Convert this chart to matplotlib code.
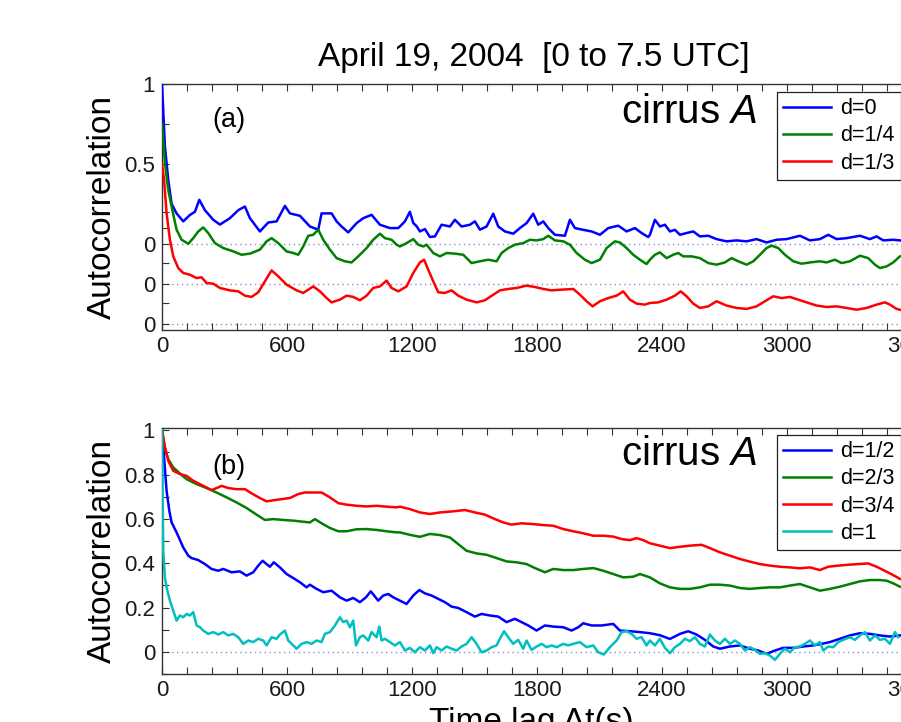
import matplotlib
matplotlib.use("Agg")
import matplotlib.pyplot as plt
from matplotlib.ticker import FixedLocator, MultipleLocator

plt.rcParams['font.family'] = ['Liberation Sans', 'DejaVu Sans']
plt.rcParams['mathtext.fontset'] = 'custom'
plt.rcParams['mathtext.rm'] = 'Liberation Sans'
plt.rcParams['mathtext.it'] = 'Liberation Sans:italic'

# ---------------- data ----------------
title = "April 19, 2004  [0 to 7.5 UTC]"
panel_a_labels = ["d=0", "d=1/4", "d=1/3"]
panel_b_labels = ["d=1/2", "d=2/3", "d=3/4", "d=1"]
panel_a_offsets = [0.0, -0.25, -0.5]          # vertical shift of each curve in (a)

a_t_d0 = [0, 14, 30, 46, 70, 102, 134, 158, 179, 206, 246, 278, 326, 366, 398, 422, 470, 510, 550, 590,
          614, 662, 710, 750, 766, 814, 838, 862, 894, 934, 966, 1006, 1046, 1094, 1134,
          1142, 1166, 1190, 1206, 1222, 1238, 1262, 1286, 1310, 1342, 1382, 1406, 1438, 1478, 1502, 1526,
          1558, 1590, 1614, 1646, 1686, 1718, 1750, 1782, 1806, 1830, 1854, 1886, 1934, 1958, 1982, 2022,
          2062, 2102, 2142, 2190, 2230, 2270, 2302, 2334,
          2342, 2366, 2390, 2414, 2438, 2462, 2486, 2518, 2550, 2582, 2622, 2662, 2710, 2758, 2806, 2854,
          2902, 2950, 2998, 3062, 3110, 3158, 3198, 3238, 3286, 3350, 3398, 3430, 3462, 3510, 3542]
a_ac_d0 = [1.0, 0.61, 0.40, 0.25, 0.19, 0.14, 0.18, 0.20, 0.275, 0.21, 0.15, 0.12, 0.16, 0.21, 0.233, 0.16,
           0.077, 0.133, 0.14, 0.237, 0.19, 0.175, 0.108, 0.088, 0.19, 0.19, 0.14, 0.108, 0.071, 0.129,
           0.16, 0.181, 0.119, 0.098, 0.098,
           0.108, 0.14, 0.20, 0.13, 0.11, 0.077, 0.092, 0.042, 0.046, 0.119, 0.108, 0.15, 0.108, 0.119,
           0.14, 0.088, 0.108, 0.188, 0.108, 0.077, 0.063, 0.098, 0.129, 0.188, 0.119, 0.14, 0.098, 0.056,
           0.05, 0.15, 0.098, 0.087, 0.077, 0.056, 0.098, 0.113, 0.077, 0.098, 0.067, 0.042,
           0.056, 0.15, 0.108, 0.119, 0.077, 0.087, 0.056, 0.067, 0.077, 0.046, 0.05, 0.029, 0.015, 0.021,
           0.015, 0.029, 0.008, 0.025, 0.029, 0.05, 0.021, 0.029, 0.056, 0.029, 0.035, 0.05, 0.029, 0.046,
           0.021, 0.025, 0.021]

a_t_d14 = [0, 14, 30, 46, 70, 94, 126, 150, 174, 198, 222, 254, 294, 342, 382, 422, 470, 502, 526, 558,
           598, 630, 654, 678, 702, 726, 750, 774, 806, 838, 878, 910, 942, 982, 1014, 1046, 1070, 1102, 1126,
           1142, 1174, 1206, 1230, 1254, 1270, 1302, 1334, 1366, 1406, 1446, 1486, 1526, 1566, 1606, 1630,
           1662, 1694, 1734, 1766, 1798, 1830, 1854, 1886, 1926, 1958, 1990, 2030, 2062, 2102, 2134, 2174,
           2198, 2230, 2262, 2294, 2326,
           2342, 2366, 2390, 2422, 2454, 2478, 2502, 2542, 2582, 2622, 2662, 2702, 2734, 2766, 2806, 2838,
           2870, 2902, 2926, 2958, 2990, 3030, 3070, 3110, 3158, 3190, 3230, 3262, 3302, 3350, 3390, 3422,
           3446, 3478, 3510, 3542]
a_ac_d14 = [1.0, 0.754, 0.587, 0.483, 0.338, 0.275, 0.25, 0.285, 0.327, 0.352, 0.317, 0.254, 0.223, 0.202,
            0.181, 0.188, 0.213, 0.265, 0.285, 0.254, 0.202, 0.192, 0.181, 0.233, 0.30, 0.306, 0.338, 0.275,
            0.213, 0.16, 0.14, 0.133, 0.171, 0.223, 0.275, 0.313, 0.285, 0.275, 0.244,
            0.233, 0.254, 0.279, 0.244, 0.233, 0.244, 0.192, 0.171, 0.192, 0.188, 0.181, 0.129, 0.14, 0.15,
            0.14, 0.192, 0.223, 0.244, 0.254, 0.275, 0.271, 0.279, 0.30, 0.271, 0.265, 0.244, 0.192, 0.15,
            0.129, 0.15, 0.223, 0.265, 0.258, 0.223, 0.181, 0.15, 0.123,
            0.15, 0.181, 0.196, 0.16, 0.181, 0.192, 0.171, 0.171, 0.16, 0.129, 0.119, 0.133, 0.16, 0.14,
            0.119, 0.14, 0.181, 0.223, 0.238, 0.223, 0.181, 0.14, 0.125, 0.133, 0.14, 0.133, 0.15, 0.129,
            0.14, 0.175, 0.16, 0.119, 0.098, 0.108, 0.133, 0.171]

a_t_d13 = [0, 10, 22, 38, 54, 78, 102, 134, 166, 190, 214, 246, 278, 326, 366, 398, 430, 462, 494, 526,
           558, 598, 646, 678, 726, 758, 790, 814, 854, 886, 918, 950, 982, 1014, 1046, 1078, 1102, 1134,
           1142, 1174, 1206, 1238, 1258, 1278, 1302, 1326, 1358, 1390, 1422, 1462, 1510, 1550, 1590, 1622,
           1662, 1702, 1750, 1790, 1830, 1870, 1910, 1974, 2006, 2038, 2067, 2102, 2142, 2182, 2214, 2246,
           2278, 2318, 2342,
           2382, 2422, 2462, 2490, 2518, 2550, 2582, 2622, 2662, 2710, 2758, 2806, 2854, 2894, 2934, 2974,
           3014, 3054, 3094, 3142, 3190, 3238, 3286, 3334, 3382, 3430, 3470, 3494, 3526, 3542]
a_ac_d13 = [1.0, 0.9, 0.692, 0.525, 0.421, 0.348, 0.317, 0.306, 0.285, 0.29, 0.254, 0.25, 0.223, 0.208,
            0.202, 0.175, 0.167, 0.196, 0.265, 0.333, 0.296, 0.244, 0.208, 0.192, 0.233, 0.202, 0.16, 0.133,
            0.15, 0.175, 0.167, 0.146, 0.175, 0.223, 0.233, 0.269, 0.223, 0.202,
            0.208, 0.233, 0.317, 0.383, 0.4, 0.337, 0.265, 0.196, 0.192, 0.208, 0.175, 0.15, 0.133, 0.146,
            0.181, 0.208, 0.217, 0.223, 0.238, 0.229, 0.217, 0.208, 0.212, 0.217, 0.181, 0.14, 0.108, 0.14,
            0.16, 0.175, 0.202, 0.15, 0.125, 0.119, 0.129,
            0.133, 0.15, 0.175, 0.202, 0.171, 0.125, 0.098, 0.108, 0.14, 0.113, 0.098, 0.092, 0.108, 0.14,
            0.171, 0.16, 0.167, 0.15, 0.133, 0.113, 0.104, 0.108, 0.098, 0.087, 0.098, 0.119, 0.133, 0.119,
            0.092, 0.087]

b_t_d12 = [0, 10, 22, 35, 46, 70, 102, 126, 142, 174, 206, 238, 270, 294, 334, 374, 406, 438, 462, 483,
           502, 518, 537, 566, 598, 630, 662, 694, 710, 742, 774, 814, 854, 886, 918, 950, 979, 1002, 1038,
           1062, 1086, 1110,
           1142, 1174, 1206, 1235, 1262, 1294, 1326, 1358, 1390, 1422, 1462, 1502, 1534, 1574, 1614, 1654,
           1694, 1726, 1758, 1798, 1838, 1878, 1926, 1966, 1998, 2022, 2062, 2110, 2166, 2198, 2246, 2294,
           2342,
           2390, 2438, 2486, 2526, 2566, 2606, 2646, 2678, 2726, 2774, 2822, 2862, 2902, 2942, 2982, 3030,
           3078, 3126, 3166, 3206, 3254, 3302, 3350, 3398, 3446, 3494, 3542]
b_ac_d12 = [1.0, 0.877, 0.727, 0.637, 0.584, 0.539, 0.471, 0.434, 0.423, 0.414, 0.396, 0.374, 0.366, 0.374,
            0.359, 0.363, 0.344, 0.359, 0.389, 0.411, 0.396, 0.384, 0.404, 0.381, 0.351, 0.333, 0.314,
            0.291, 0.303, 0.284, 0.269, 0.276, 0.246, 0.231, 0.243, 0.224, 0.246, 0.273, 0.231, 0.254,
            0.261, 0.246,
            0.231, 0.216, 0.254, 0.279, 0.264, 0.254, 0.239, 0.224, 0.204, 0.198, 0.179, 0.159, 0.171, 0.164,
            0.159, 0.134, 0.149, 0.134, 0.119, 0.096, 0.119, 0.114, 0.111, 0.096, 0.111, 0.129, 0.119, 0.119,
            0.126, 0.096, 0.093, 0.089, 0.084,
            0.075, 0.058, 0.081, 0.093, 0.078, 0.054, 0.024, 0.014, 0.024, 0.029, 0.014, 0.006, -0.009,
            0.006, 0.018, 0.018, 0.024, 0.029, 0.036, 0.044, 0.059, 0.074, 0.084, 0.081, 0.074, 0.069, 0.074]

b_t_d23 = [0, 14, 30, 54, 86, 118, 166, 214, 262, 310, 358, 406, 454, 494, 534, 582, 630, 678, 710, 734,
           766, 806, 846, 886, 934, 982, 1030, 1078, 1126,
           1142, 1190, 1238, 1286, 1334, 1382, 1422, 1462, 1510, 1558, 1606, 1654, 1702, 1750, 1790, 1838,
           1878, 1926, 1974, 2022, 2070, 2118, 2166, 2214, 2262, 2294, 2342,
           2390, 2438, 2486, 2534, 2582, 2630, 2678, 2726, 2774, 2822, 2870, 2918, 2966, 3014, 3062, 3110,
           3158, 3206, 3254, 3302, 3350, 3398, 3446, 3478, 3510, 3542]
b_ac_d23 = [1.0, 0.922, 0.869, 0.832, 0.805, 0.779, 0.757, 0.739, 0.719, 0.697, 0.674, 0.649, 0.619, 0.595,
            0.599, 0.595, 0.592, 0.587, 0.584, 0.599, 0.58, 0.559, 0.544, 0.544, 0.553, 0.554, 0.55, 0.544,
            0.539,
            0.539, 0.528, 0.519, 0.532, 0.527, 0.516, 0.486, 0.456, 0.444, 0.438, 0.423, 0.408, 0.404, 0.396,
            0.378, 0.359, 0.374, 0.369, 0.369, 0.374, 0.378, 0.366, 0.351, 0.336, 0.339, 0.351, 0.336,
            0.309, 0.291, 0.284, 0.284, 0.291, 0.303, 0.303, 0.299, 0.288, 0.284, 0.288, 0.291, 0.291, 0.299,
            0.306, 0.291, 0.276, 0.284, 0.294, 0.306, 0.318, 0.324, 0.324, 0.321, 0.309, 0.294]

b_t_d34 = [0, 14, 30, 54, 86, 118, 150, 198, 238, 262, 286, 318, 358, 398, 430, 470, 502, 542, 574, 614,
           654, 686, 726, 766, 806, 846, 886, 934, 982, 1030, 1078, 1126,
           1142, 1190, 1238, 1286, 1334, 1398, 1454, 1502, 1550, 1598, 1638, 1678, 1726, 1774, 1830, 1878,
           1926, 1974, 2022, 2070, 2118, 2166, 2206, 2246, 2278, 2310, 2342,
           2390, 2438, 2486, 2534, 2590, 2630, 2678, 2726, 2774, 2822, 2870, 2918, 2966, 3014, 3062, 3110,
           3158, 3198, 3246, 3294, 3342, 3390, 3430, 3462, 3494, 3526, 3542]
b_ac_d34 = [1.0, 0.922, 0.862, 0.817, 0.802, 0.794, 0.772, 0.749, 0.73, 0.739, 0.749, 0.739, 0.734, 0.734,
            0.715, 0.694, 0.679, 0.685, 0.689, 0.694, 0.712, 0.719, 0.719, 0.719, 0.697, 0.671, 0.664, 0.659,
            0.656, 0.659, 0.655, 0.652,
            0.655, 0.644, 0.629, 0.622, 0.629, 0.634, 0.64, 0.629, 0.619, 0.599, 0.584, 0.574, 0.58, 0.577,
            0.572, 0.569, 0.554, 0.544, 0.535, 0.524, 0.524, 0.52, 0.509, 0.504, 0.513, 0.504, 0.49,
            0.479, 0.468, 0.474, 0.479, 0.483, 0.468, 0.449, 0.434, 0.419, 0.407, 0.396, 0.389, 0.384, 0.381,
            0.377, 0.381, 0.369, 0.384, 0.389, 0.393, 0.396, 0.399, 0.384, 0.369, 0.354, 0.338, 0.329]

b_t_d1 = [0, 3, 6, 14, 22, 38, 54, 70, 86, 102, 118, 134, 150, 166, 182, 198, 222, 246, 270, 294, 318, 342,
          366, 390, 414, 438, 462, 486, 502, 526, 550, 566, 590, 606, 630, 646, 670, 694, 718, 742, 766, 782,
          806, 830, 854, 870, 886, 902, 918, 931, 950, 966, 990, 1006, 1030, 1043, 1054, 1070, 1094, 1118,
          1142, 1166, 1190, 1214, 1238, 1262, 1286, 1302, 1318, 1342, 1366, 1390, 1414, 1438, 1462, 1486,
          1510, 1534, 1558, 1582, 1606, 1622, 1642, 1662, 1686, 1710, 1734, 1750, 1774, 1798, 1822, 1846,
          1870, 1894, 1926, 1950, 1974, 2006, 2038, 2070, 2094, 2121, 2150, 2182, 2206, 2230, 2254, 2278,
          2302, 2326,
          2342, 2366, 2390, 2414, 2438, 2462, 2486, 2510, 2534, 2558, 2582, 2606, 2630, 2654, 2678, 2702,
          2726, 2750, 2774, 2798, 2822, 2846, 2870, 2894, 2918, 2942, 2966, 2990, 3014, 3038, 3062, 3086,
          3110, 3134, 3158, 3174, 3198, 3222, 3246, 3270, 3302, 3326, 3350, 3374, 3398, 3422, 3446, 3470,
          3494, 3518, 3534]
b_ac_d1 = [1.0, 0.727, 0.456, 0.336, 0.291, 0.231, 0.186, 0.141, 0.164, 0.156, 0.171, 0.164, 0.179, 0.119,
           0.111, 0.096, 0.081, 0.089, 0.078, 0.089, 0.074, 0.081, 0.066, 0.036, 0.051, 0.044, 0.059, 0.051,
           0.029, 0.066, 0.059, 0.078, 0.096, 0.051, 0.029, 0.014, 0.036, 0.044, 0.036, 0.051, 0.044, 0.081,
           0.089, 0.119, 0.156, 0.134, 0.141, 0.111, 0.141, 0.029, 0.066, 0.074, 0.051, 0.089, 0.066, 0.114,
           0.051, 0.059, 0.044, 0.029,
           0.044, 0.006, 0.018, -0.002, 0.021, 0.006, 0.029, -0.006, 0.021, 0.006, 0.024, 0.014, 0.006,
           0.024, 0.036, 0.066, 0.036, -0.002, 0.006, 0.021, 0.029, 0.059, 0.093, 0.066, 0.036, 0.054,
           0.014, 0.051, 0.009, 0.024, 0.036, 0.021, 0.029, 0.021, 0.036, 0.029, 0.036, 0.044, 0.021, 0.029,
           -0.002, -0.012, 0.021, 0.051, 0.089, 0.093, 0.081, 0.059, 0.066, 0.029,
           0.051, 0.029, 0.059, 0.018, -0.006, 0.021, 0.036, 0.059, 0.048, 0.066, 0.036, 0.024, 0.078, 0.051,
           0.036, 0.059, 0.036, 0.051, 0.036, 0.006, 0.021, 0.009, -0.009, -0.006, -0.017, -0.036, -0.009,
           0.014, -0.002, 0.021, 0.024, 0.036, 0.051, 0.029, 0.044, 0.006, 0.024, 0.021, 0.044, 0.054, 0.066,
           0.054, 0.074, 0.089, 0.051, 0.074, 0.054, 0.059, 0.036, 0.089, 0.066]

x_ticks = [0, 600, 1200, 1800, 2400, 3000, 3600]
a_yticks = [-0.5, -0.25, 0, 0.5, 1]
a_yticklabels = ["0", "0", "0", "0.5", "1"]
b_yticks = [0, 0.2, 0.4, 0.6, 0.8, 1]
b_yticklabels = ["0", "0.2", "0.4", "0.6", "0.8", "1"]

colors_a = ["#0000ff", "#008000", "#ff0000"]
colors_b = ["#0000ff", "#008000", "#ff0000", "#00bfbf"]

# ---------------- figure ----------------
W, H = 901, 722
fig = plt.figure(figsize=(W / 100, H / 100), dpi=100)
ax_a = fig.add_axes([162 / W, (H - 330) / H, 750 / W, 246 / H])
ax_b = fig.add_axes([162 / W, (H - 674) / H, 750 / W, 246 / H])

dot_color = "#8c8cd2"
for off in panel_a_offsets:
    ax_a.axhline(off, color=dot_color, lw=1.0, ls=(0, (1, 2.5)), zorder=1)
ax_b.axhline(0, color=dot_color, lw=1.0, ls=(0, (1, 2.5)), zorder=1)

series_a = [(a_t_d0, a_ac_d0), (a_t_d14, a_ac_d14), (a_t_d13, a_ac_d13)]
for (t, ac), off, c, lab in zip(series_a, panel_a_offsets, colors_a, panel_a_labels):
    ax_a.plot(t, [v + off for v in ac], color=c, lw=1.8, label=lab, zorder=3)

series_b = [(b_t_d12, b_ac_d12), (b_t_d23, b_ac_d23), (b_t_d34, b_ac_d34), (b_t_d1, b_ac_d1)]
for (t, ac), c, lab in zip(series_b, colors_b, panel_b_labels):
    ax_b.plot(t, ac, color=c, lw=1.8, label=lab, zorder=3)

ax_a.set_ylim(-0.54, 1.0)
ax_b.set_ylim(-0.1, 1.01)
ax_a.set_yticks(a_yticks)
ax_a.set_yticklabels(a_yticklabels)
ax_a.yaxis.set_minor_locator(FixedLocator([-0.37, -0.12, 0.1, 0.2, 0.75]))
ax_b.set_yticks(b_yticks)
ax_b.set_yticklabels(b_yticklabels)
ax_b.yaxis.set_minor_locator(MultipleLocator(0.1))

for ax in (ax_a, ax_b):
    ax.set_xlim(0, 3600)
    ax.set_xticks(x_ticks)
    ax.set_xticklabels([str(v) for v in x_ticks])
    ax.xaxis.set_minor_locator(MultipleLocator(120))
    ax.tick_params(which="both", direction="in", top=True, right=True, length=5, width=0.8,
                   color="#333333", labelsize=16, labelcolor="#1a1a1a")
    ax.tick_params(axis="x", pad=4)
    ax.tick_params(axis="y", pad=5)
    for s in ax.spines.values():
        s.set_color("#333333")
        s.set_linewidth(1.0)
    ax.set_ylabel("Autocorrelation", fontsize=24, va="center")
    ax.yaxis.set_label_coords(-0.079, 0.5)
    ax.text(0.612, 0.84 if ax is ax_a else 0.85, r"cirrus $A$", transform=ax.transAxes,
            fontsize=29, va="baseline", ha="left")

ax_a.text(0.0667, 0.854, "(a)", transform=ax_a.transAxes, fontsize=19.5, va="center", ha="left")
ax_b.text(0.0667, 0.841, "(b)", transform=ax_b.transAxes, fontsize=19.5, va="center", ha="left")

leg_kw = dict(loc="upper left", fontsize=15.5, frameon=True, fancybox=False, framealpha=1,
              edgecolor="#222222", handlelength=2.2, handletextpad=0.42, borderpad=0.3,
              labelspacing=0.28, borderaxespad=0)
la = ax_a.legend(bbox_to_anchor=(0.82, 0.9675), **leg_kw)
lb = ax_b.legend(bbox_to_anchor=(0.82, 0.9715), **leg_kw)
for lg in (la, lb):
    lg.get_frame().set_linewidth(0.9)

ax_b.set_xlabel("Time lag \u0394t(s)", fontsize=24, va="top")
ax_b.xaxis.set_label_coords(0.4927, -0.135)

fig.text(534 / W, (H - 66) / H, title, fontsize=24, ha="center", va="baseline")

fig.savefig("out.png", dpi=100)
